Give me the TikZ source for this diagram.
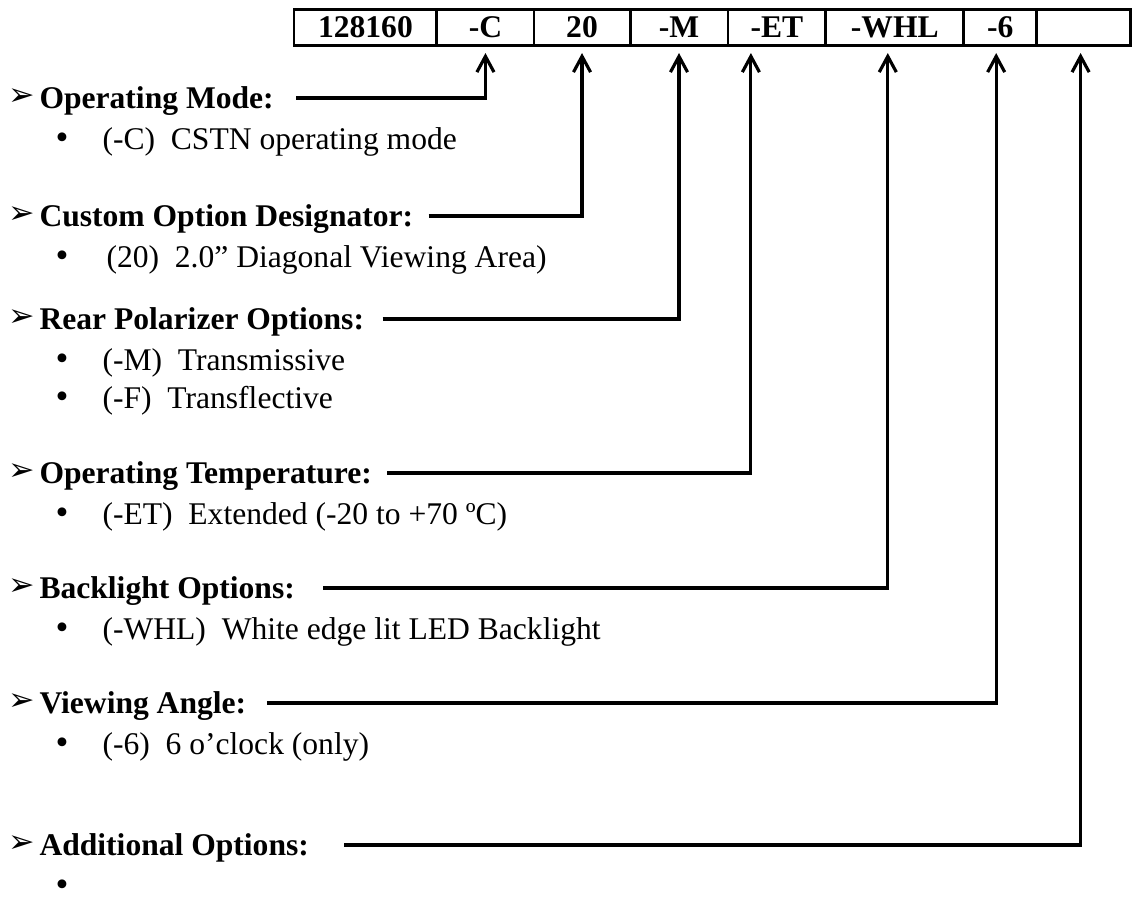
\documentclass[tikz,border=0pt]{standalone}
\usepackage{fontspec}
\setmainfont{Liberation Serif}
\newfontfamily\dingfont{DejaVu Sans}
\usepackage{tikz}
\usetikzlibrary{arrows.meta,positioning,calc}
\newcommand{\bodysize}{\fontsize{12}{14}\selectfont}
\tikzset{
  cell/.style={draw,line width=1.1pt,inner sep=0pt,outer sep=0pt,
    minimum height=14pt,font=\bodysize\bfseries},
  head/.style={anchor=base west,inner sep=0pt,font=\bodysize\bfseries},
  item/.style={anchor=base west,inner sep=0pt,font=\bodysize},
  dot/.style={anchor=base west,inner sep=0pt,font=\fontsize{14}{14}\selectfont},
  pointer/.style={anchor=base west,inner sep=0pt,font=\dingfont\fontsize{12}{12}\selectfont},
  conn/.style={line width=1.2pt,-{Straight Barb[length=6pt,width=6.5pt]},shorten >=2.7pt}
}

\begin{document}
\begin{tikzpicture}[x=0.38pt,y=-0.38pt]
  \useasboundingbox (0,0) rectangle (1137,901);
  \node[cell,minimum width=54.3pt,anchor=west] (pn) at (294,27.5) {128160};
  \node[cell,minimum width=36.9pt,right=0pt of pn] (c-mode) {-C};
  \node[cell,minimum width=36.5pt,right=0pt of c-mode] (c-size) {20};
  \node[cell,minimum width=37.2pt,right=0pt of c-size] (c-rear) {-M};
  \node[cell,minimum width=37.2pt,right=0pt of c-rear] (c-temp) {-ET};
  \node[cell,minimum width=52.4pt,right=0pt of c-temp] (c-back) {-WHL};
  \node[cell,minimum width=27.7pt,right=0pt of c-back] (c-view) {-6};
  \node[cell,minimum width=35.7pt,right=0pt of c-view] (c-add) {};

  \node[pointer] (p-mode) at (8,105) {➢};
  \node[head] (h-mode) at (39,108) {Operating Mode:};
  \node[dot] (b-mode) at (55,149) {•};
  \node[item] (i-mode) at (102,149) {(-C)\ \ CSTN operating mode};

  \node[pointer] (p-size) at (8,223) {➢};
  \node[head] (h-size) at (39,226) {Custom Option Designator:};
  \node[dot] (b-size) at (55,267) {•};
  \node[item] (i-size) at (106,267) {(20)\ \ 2.0” Diagonal Viewing Area)};

  \node[pointer] (p-rear) at (8,326) {➢};
  \node[head] (h-rear) at (39,329) {Rear Polarizer Options:};
  \node[dot] (b-rear1) at (55,370) {•};
  \node[item] (i-rear1) at (102,370) {(-M)\ \ Transmissive};
  \node[dot] (b-rear2) at (55,408) {•};
  \node[item] (i-rear2) at (102,408) {(-F)\ \ Transflective};

  \node[pointer] (p-temp) at (8,480) {➢};
  \node[head] (h-temp) at (39,483) {Operating Temperature:};
  \node[dot] (b-temp) at (55,524) {•};
  \node[item] (i-temp) at (102,524) {(-ET)\ \ Extended (-20 to +70 ºC)};

  \node[pointer] (p-back) at (8,595) {➢};
  \node[head] (h-back) at (39,598) {Backlight Options:};
  \node[dot] (b-back) at (55,639) {•};
  \node[item] (i-back) at (102,639) {(-WHL)\ \ White edge lit LED Backlight};

  \node[pointer] (p-view) at (8,710) {➢};
  \node[head] (h-view) at (39,713) {Viewing Angle:};
  \node[dot] (b-view) at (55,754) {•};
  \node[item] (i-view) at (102,754) {(-6)\ \ 6 o’clock (only)};

  \node[pointer] (p-add) at (8,852) {➢};
  \node[head] (h-add) at (39,855) {Additional Options:};
  \node[dot] (b-add) at (55,896) {•};

  \coordinate (l-mode) at ($(h-mode.base east)+(22,-10)$);
  \coordinate (l-size) at ($(h-size.base east)+(15,-10)$);
  \coordinate (l-rear) at ($(h-rear.base east)+(18,-10)$);
  \coordinate (l-temp) at ($(h-temp.base east)+(15,-10)$);
  \coordinate (l-back) at ($(h-back.base east)+(28,-10)$);
  \coordinate (l-view) at ($(h-view.base east)+(20,-10)$);
  \coordinate (l-add) at ($(h-add.base east)+(35,-10)$);
  \draw[conn] (l-mode) -| (c-mode.south);
  \draw[conn] (l-size) -| (c-size.south);
  \draw[conn] (l-rear) -| (c-rear.south);
  \draw[conn] (l-temp) -| ($(c-temp.south)+(-26,0)$);
  \draw[conn] (l-back) -| ($(c-back.south)+(-7,0)$);
  \draw[conn] (l-view) -| ($(c-view.south)+(-4,0)$);
  \draw[conn] (l-add) -| ($(c-add.south)+(-3,0)$);
\end{tikzpicture}
\end{document}
